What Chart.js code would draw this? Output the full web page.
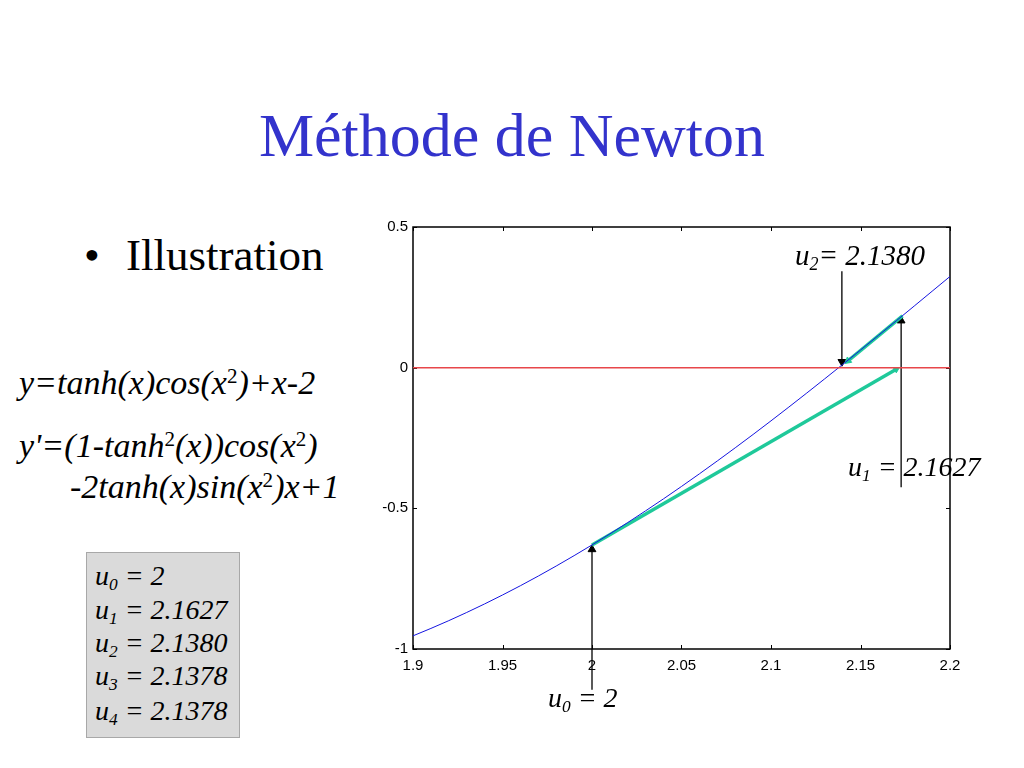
<!DOCTYPE html>
<html>
<head>
<meta charset="utf-8">
<script src="https://cdn.jsdelivr.net/npm/chart.js@4.4.1/dist/chart.umd.min.js"></script>
<style>
    body { margin: 0; width: 1024px; height: 768px; background: #fff; position: relative; overflow: hidden; }
    .t { position: absolute; font-family: "Liberation Serif", "Times New Roman", serif; line-height: 1; white-space: nowrap; color: #000; }
    .it { font-style: italic; }
    .t sub { font-size: 0.62em; vertical-align: -0.3em; line-height: 0; }
    .t sup { font-size: 0.62em; vertical-align: 0.5em; line-height: 0; font-style: normal; }
    #title { left: 0; width: 1024px; text-align: center; top: 104px; font-size: 62px; color: #3333cc; }
    #box { position: absolute; left: 86px; top: 552px; width: 152px; height: 184px; background: #dadada; border: 1px solid #a8a8a8; }
    #chart { position: absolute; left: 340px; top: 200px; }
</style>
</head>
<body>
<div id="title" class="t">Méthode de Newton</div>
<div class="t" style="left:84px; top:233px; font-size:45px;">•</div>
<div class="t" style="left:126px; top:233px; font-size:45px;">Illustration</div>

<div class="t it" style="left:19px; top:366px; font-size:34px;">y=tanh(x)cos(x<sup>2</sup>)+x-2</div>
<div class="t it" style="left:19px; top:429px; font-size:34px;">y'=(1-tanh<sup>2</sup>(x))cos(x<sup>2</sup>)</div>
<div class="t it" style="left:70px; top:470px; font-size:34px;">-2tanh(x)sin(x<sup>2</sup>)x+1</div>

<div id="box"></div>
<div class="t it" style="left:95px; top:562px; font-size:28px;">u<sub>0</sub> = 2</div>
<div class="t it" style="left:95px; top:596px; font-size:28px;">u<sub>1</sub> = 2.1627</div>
<div class="t it" style="left:95px; top:629px; font-size:28px;">u<sub>2</sub> = 2.1380</div>
<div class="t it" style="left:95px; top:662px; font-size:28px;">u<sub>3</sub> = 2.1378</div>
<div class="t it" style="left:95px; top:697px; font-size:28px;">u<sub>4</sub> = 2.1378</div>

<canvas id="chart" width="670" height="540"></canvas>

<div class="t it" style="left:795px; top:241px; font-size:29px;">u<sub>2</sub>= 2.1380</div>
<div class="t it" style="left:848px; top:453px; font-size:28px;">u<sub>1</sub> = 2.1627</div>
<div class="t it" style="left:548px; top:684px; font-size:28px;">u<sub>0</sub> = 2</div>

<script>
// curve samples y = tanh(x)cos(x^2)+x-2
var xValues = [1.90, 1.91, 1.92, 1.93, 1.94, 1.95, 1.96, 1.97, 1.98, 1.99,
    2.00, 2.01, 2.02, 2.03, 2.04, 2.05, 2.06, 2.07, 2.08, 2.09,
    2.10, 2.11, 2.12, 2.13, 2.14, 2.15, 2.16, 2.17, 2.18, 2.19, 2.20];
var yValues = [-0.9532, -0.9269, -0.8992, -0.8702, -0.8398, -0.8081, -0.7751, -0.7407, -0.7051, -0.6682,
    -0.6301, -0.5908, -0.5503, -0.5087, -0.4660, -0.4222, -0.3774, -0.3316, -0.2849, -0.2374,
    -0.1890, -0.1399, -0.0901, -0.0397, 0.0112, 0.0626, 0.1145, 0.1666, 0.2190, 0.2716, 0.3242];

var xRange = [1.9, 2.2];
var yRange = [-1, 0.5];
var xStep = 0.05;
var yStep = 0.5;

// newton steps (teal arrows)
var step1X = [2.0, 2.170];
var step1Y = [-0.630, -0.006];
var step2X = [2.1735, 2.143];
var step2Y = [0.184, 0.024];

// black pointer arrows from the labels
var arrowU0X = [2.0, 2.0];
var arrowU0Y = [-1.145, -0.646];
var arrowU1X = [2.1727, 2.1727];
var arrowU1Y = [-0.425, 0.167];
var arrowU2X = [2.1396, 2.1396];
var arrowU2Y = [0.343, 0.021];

function toPoints(xs, ys) {
    var pts = [];
    for (var i = 0; i < xs.length; i++) {
        pts.push({ x: xs[i], y: ys[i] });
    }
    return pts;
}

// rotate the triangle at the last point along the segment direction
function arrowRotation(ctx) {
    var d = ctx.dataset.data;
    var i = ctx.dataIndex;
    if (i === 0) return 0;
    var sx = ctx.chart.scales.x, sy = ctx.chart.scales.y;
    var dx = sx.getPixelForValue(d[i].x) - sx.getPixelForValue(d[i - 1].x);
    var dy = sy.getPixelForValue(d[i].y) - sy.getPixelForValue(d[i - 1].y);
    return Math.atan2(dx, -dy) * 180 / Math.PI;
}

function arrowSet(xs, ys, color, width, head) {
    return {
        data: toPoints(xs, ys),
        showLine: true,
        borderColor: color,
        borderWidth: width,
        pointStyle: 'triangle',
        pointRadius: [0, head],
        pointBackgroundColor: color,
        pointBorderColor: color,
        pointBorderWidth: 1,
        pointRotation: arrowRotation,
        clip: false
    };
}

// box frame with inward tick marks on all four sides
var frame = {
    id: 'frame',
    beforeDatasetsDraw: function(chart) {
        var c = chart.ctx, a = chart.chartArea;
        var sx = chart.scales.x, sy = chart.scales.y;
        var tl = 4;
        c.save();
        c.strokeStyle = '#000';
        c.lineWidth = 1.5;
        c.strokeRect(a.left, a.top, a.right - a.left, a.bottom - a.top);
        c.lineWidth = 1;
        c.beginPath();
        sx.ticks.forEach(function(t) {
            var px = Math.round(sx.getPixelForValue(t.value)) + 0.5;
            c.moveTo(px, a.bottom); c.lineTo(px, a.bottom - tl);
            c.moveTo(px, a.top); c.lineTo(px, a.top + tl);
        });
        sy.ticks.forEach(function(t) {
            var py = Math.round(sy.getPixelForValue(t.value)) + 0.5;
            c.moveTo(a.left, py); c.lineTo(a.left + tl, py);
            c.moveTo(a.right, py); c.lineTo(a.right - tl, py);
        });
        c.stroke();
        c.restore();
    }
};

var tickFont = { family: '"Liberation Sans", Arial, sans-serif', size: 15 };

new Chart(document.getElementById('chart').getContext('2d'), {
    type: 'scatter',
    data: {
        datasets: [
            {
                data: toPoints(xRange, [0, 0]),
                showLine: true,
                borderColor: '#e8474a',
                borderWidth: 1.5,
                pointRadius: 0
            },
            {
                data: toPoints(xValues, yValues),
                showLine: true,
                borderColor: '#1515e0',
                borderWidth: 1,
                pointRadius: 0,
                tension: 0
            },
            arrowSet(step1X, step1Y, '#1fc99a', 3.5, 3.5),
            arrowSet(step2X, step2Y, '#1fc99a', 3.5, 4),
            arrowSet(arrowU0X, arrowU0Y, '#000', 1.3, 4.5),
            arrowSet(arrowU1X, arrowU1Y, '#000', 1.3, 4.5),
            arrowSet(arrowU2X, arrowU2Y, '#000', 1.3, 4.5)
        ]
    },
    options: {
        responsive: false,
        devicePixelRatio: 1,
        animation: false,
        events: [],
        layout: { padding: { top: 27, right: 60, left: 0, bottom: 0 } },
        plugins: { legend: { display: false }, tooltip: { enabled: false } },
        scales: {
            x: {
                type: 'linear',
                min: xRange[0],
                max: xRange[1],
                grid: { display: false, drawTicks: false },
                border: { display: false },
                ticks: {
                    stepSize: xStep,
                    padding: 8,
                    color: '#000',
                    font: tickFont,
                    maxRotation: 0,
                    callback: function(v) { return String(+v.toFixed(2)); }
                },
                afterFit: function(scale) { scale.height = 91; }
            },
            y: {
                type: 'linear',
                min: yRange[0],
                max: yRange[1],
                grid: { display: false, drawTicks: false },
                border: { display: false },
                ticks: {
                    stepSize: yStep,
                    padding: 5,
                    color: '#000',
                    font: tickFont,
                    callback: function(v) { return String(+v.toFixed(2)); }
                },
                afterFit: function(scale) { scale.width = 73; }
            }
        }
    },
    plugins: [frame]
});
</script>
</body>
</html>
